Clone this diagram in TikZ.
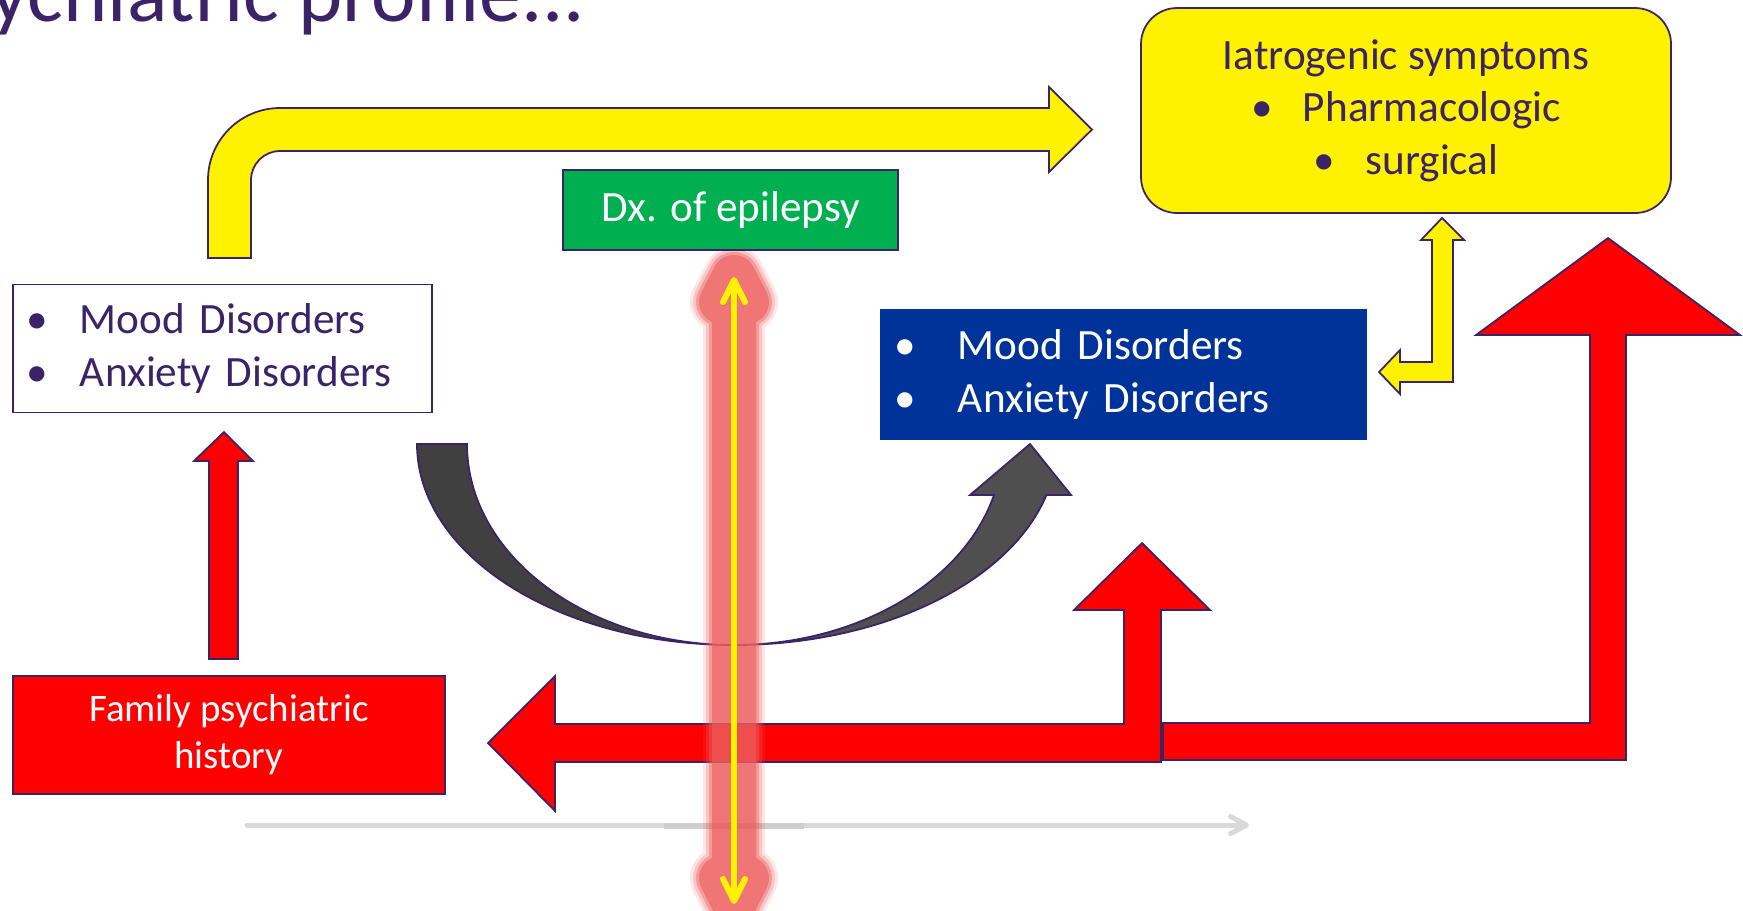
\documentclass[tikz,border=0pt]{standalone}
\usepackage{fontspec}
\setmainfont{Carlito}
\usepackage{tikz}
\usetikzlibrary{arrows.meta, positioning, calc}
\definecolor{txtpurple}{HTML}{3B2368}
\definecolor{dxgreen}{HTML}{00B050}
\definecolor{moodblue}{HTML}{003399}
\definecolor{glowred}{HTML}{ED5D5D}
\definecolor{crescdark}{HTML}{404040}
\definecolor{crescmid}{HTML}{4F4F4F}
\definecolor{timegray}{HTML}{D9D9D9}

\newcommand{\bul}[1]{\makebox[#1][l]{•}}

\begin{document}
\begin{tikzpicture}[
  x=0.1mm, y=-0.1mm,
  every node/.style={font=\fontsize{12.3}{14.9}\selectfont, inner sep=0pt},
  outline/.style={draw=txtpurple, line width=0.5pt},
  blockyellow/.style={outline, fill=yellow},
  blockred/.style={outline, fill=red},
  moodbox/.style={outline, align=left, inner xsep=1.35mm, minimum height=12.8mm},
  timeline/.style={draw=timegray, line width=0.5mm, line cap=round,
    -{Straight Barb[length=1.6mm, width=1.7mm, round]}},
  glow/.style={draw=glowred, line cap=round, line join=round},
  dxarrow/.style={draw=yellow, line width=0.6mm,
    {Straight Barb[length=2.2mm, width=2.2mm, round]}-{Straight Barb[length=2.2mm, width=2.2mm, round]}}
]

\useasboundingbox (0,0) rectangle (1743,910);

\node[text=txtpurple, font=\fontsize{24}{28}\selectfont, anchor=base east] (title) at (586,21) {Psychiatric profile...};

% block arrows
\draw[blockyellow] (208,258) -- (208,180) arc[start angle=180, end angle=270, radius=72]
  -- (1049,108) -- (1049,87) -- (1092,129.5) -- (1049,172) -- (1049,151) -- (280,151)
  arc[start angle=270, end angle=180, radius=29] -- (251,258) -- cycle;

\draw[blockyellow] (1442,218) -- (1464,240) -- (1453,240) -- (1453,382) -- (1400,382)
  -- (1400,394) -- (1379,372) -- (1400,350) -- (1400,362) -- (1432,362) -- (1432,240)
  -- (1421,240) -- cycle;

\draw[blockred] (209,659) -- (209,461) -- (194,461) -- (224,432) -- (253,461) -- (238,461)
  -- (238,659) -- cycle;

\draw[blockred] (1163,723) -- (1590,723) -- (1590,335) -- (1476,335) -- (1608,238)
  -- (1740,335) -- (1626,335) -- (1626,760) -- (1163,760) -- cycle;

\draw[blockred] (1161,762) -- (555,762) -- (555,811) -- (488,743) -- (555,676) -- (555,724)
  -- (1124,724) -- (1124,610) -- (1074,610) -- (1142,543) -- (1210,610) -- (1161,610) -- cycle;

% curved arrow between the two boxes
\draw[outline, fill=crescdark] (417,444) arc[start angle=180, end angle=90, x radius=317, y radius=201]
  arc[start angle=90, end angle=180, x radius=267, y radius=201] -- cycle;
\draw[outline, fill=crescmid] (734,645) arc[start angle=90, end angle=14.7, x radius=323, y radius=201]
  -- (1071,495) -- (1030,444) -- (970,495) -- (994,495)
  arc[start angle=14.7, end angle=90, x radius=269, y radius=201] -- cycle;

% boxes
\node[outline, fill=yellow, rounded corners=3.6mm, text=txtpurple, align=center,
  minimum width=53mm, minimum height=20.5mm] (iatro) at (1406,110.5)
  {Iatrogenic symptoms\\\bul{5.2mm}Pharmacologic\\\bul{5.2mm}surgical};

\node[moodbox, fill=white, text=txtpurple, text width=39.2mm] (moodpre) at (222.5,348.5)
  {\bul{5.35mm}Mood Disorders\\\bul{5.35mm}Anxiety Disorders};

\node[moodbox, draw=moodblue, fill=moodblue, text=white, text width=45.8mm,
  minimum height=12.9mm] (moodpost) at (1123.5,374.5)
  {\bul{6.35mm}Mood Disorders\\\bul{6.35mm}Anxiety Disorders};

\node[outline, fill=red, text=white, align=center, font=\fontsize{11.1}{13.4}\selectfont,
  minimum width=43.2mm, minimum height=11.8mm] (family) at (229,735)
  {Family psychiatric\\history};

% time line
\coordinate (tstart) at (247,825);
\coordinate (tend) at (1249,825);
\draw[timeline] (tstart) -- (tend);
\draw[draw=timegray!95!black, line width=0.55mm] (664,826) -- (804,826);

% diagnosis axis with glow
\coordinate (axtop) at (734,277);
\coordinate (axbot) at (734,904);
\foreach \w/\o in {62/0.15, 56/0.25, 50/0.4, 44/0.6}
  \draw[glow, line width=\w*0.1mm, opacity=\o] (axtop) -- (axbot)
    (721,302) -- (axtop) -- (747,302) (721,878) -- (axbot) -- (747,878);
\draw[dxarrow] (axtop) -- (axbot);

\node[outline, fill=dxgreen, text=white, minimum width=33.5mm, minimum height=8mm]
  (dx) at (730.5,210) {Dx. of epilepsy};

\end{tikzpicture}
\end{document}
